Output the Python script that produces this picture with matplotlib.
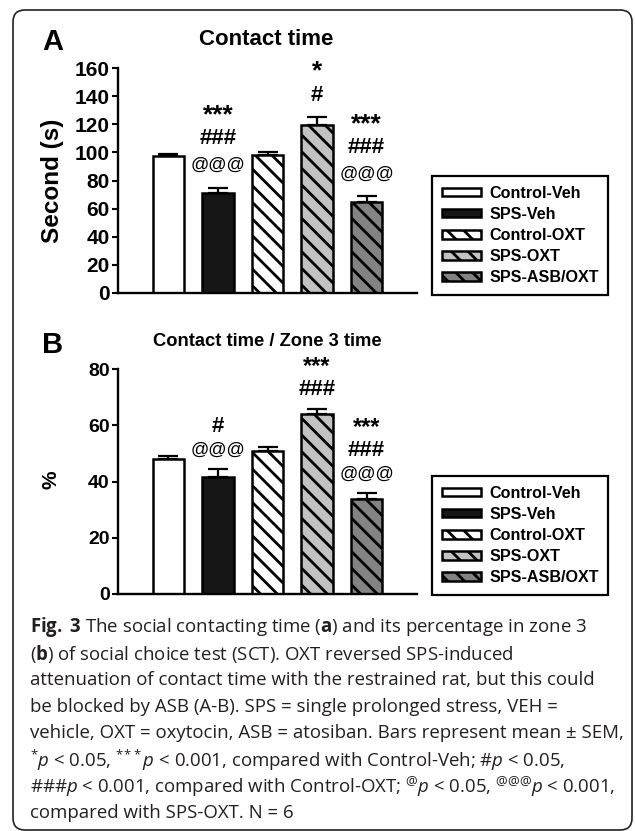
import numpy as np
import matplotlib
matplotlib.use("Agg")
import matplotlib.pyplot as plt
from matplotlib.patches import FancyBboxPatch
from matplotlib.transforms import Affine2D

# data
groups = ["Control-Veh", "SPS-Veh", "Control-OXT", "SPS-OXT", "SPS-ASB/OXT"]
contact_mean = [97.2, 71.2, 97.8, 119.5, 64.5]
contact_sem = [1.4, 3.6, 2.6, 5.6, 4.2]
pct_mean = [47.9, 41.5, 51.0, 64.0, 33.7]
pct_sem = [1.3, 2.9, 1.2, 1.8, 2.1]
# significance marks per bar, from the bar upwards
marks_a = [[], ["@@@", "###", "***"], [], ["#", "*"], ["@@@", "###", "***"]]
marks_b = [[], ["@@@", "#"], [], ["###", "***"], ["@@@", "###", "***"]]

caption = [
    r"$\mathbf{Fig.}$ $\mathbf{3}$ The social contacting time ($\mathbf{a}$) and its percentage in zone 3",
    r"($\mathbf{b}$) of social choice test (SCT). OXT reversed SPS-induced",
    "attenuation of contact time with the restrained rat, but this could",
    "be blocked by ASB (A-B). SPS = single prolonged stress, VEH =",
    "vehicle, OXT = oxytocin, ASB = atosiban. Bars represent mean \u00b1 SEM,",
    r"${}^{*}\mathit{p}$ < 0.05, ${}^{*\!*\!*}\mathit{p}$ < 0.001, compared with Control-Veh; #$\mathit{p}$ < 0.05,",
    r"###$\mathit{p}$ < 0.001, compared with Control-OXT; ${}^{@}\mathit{p}$ < 0.05, ${}^{@@@}\mathit{p}$ < 0.001,",
    "compared with SPS-OXT. N = 6",
]

# styles
fills = ["white", "#161616", "white", "#c2c2c2", "#838383"]
hatches = [None, None, "\\\\", "\\\\", "\\\\"]

plt.rcParams["font.family"] = ["Liberation Sans", "DejaVu Sans"]
plt.rcParams["hatch.linewidth"] = 2.0
plt.rcParams["mathtext.fontset"] = "custom"
plt.rcParams["mathtext.rm"] = "Open Sans"
plt.rcParams["mathtext.it"] = "Open Sans:italic"
plt.rcParams["mathtext.bf"] = "Open Sans:bold"

W, H = 635, 831
fig = plt.figure(figsize=(W / 100, H / 100), dpi=100)
# pixel coordinates, origin at top left
px = Affine2D().scale(0.01, -0.01).translate(0, H / 100) + fig.dpi_scale_trans
renderer = fig.canvas.get_renderer()

fig.patches.append(FancyBboxPatch((13, 10), 619, 820, boxstyle="round,pad=0,rounding_size=12",
                                  transform=px, fill=False, edgecolor="#222222", linewidth=1.2))


def panel(rect, means, sems, marks, ymax, first, step, tick_size, star_size):
    ax = fig.add_axes(rect)
    x = np.arange(len(groups))
    bars = ax.bar(x, means, width=0.63, color=fills, edgecolor="black", linewidth=1.8,
                  label=groups, zorder=2)
    for b, h in zip(bars, hatches):
        if h:
            b.set_hatch(h)
    ax.errorbar(x, means, yerr=[np.zeros(len(x)), sems], fmt="none", ecolor="black",
                elinewidth=1.6, capsize=7, capthick=1.6, zorder=1)
    ax.set_xlim(-1.02, 5.02)
    ax.set_ylim(0, ymax)
    ax.set_yticks(np.arange(0, ymax + 1, 20))
    ax.set_xticks([])
    for s in ["top", "right"]:
        ax.spines[s].set_visible(False)
    for s in ["left", "bottom"]:
        ax.spines[s].set_linewidth(1.7)
    ax.tick_params(axis="y", direction="out", length=4, width=1.5, pad=2, labelsize=tick_size)
    for t in ax.get_yticklabels():
        t.set_fontweight("bold")
    ax.set_facecolor("none")

    fonts = {"*": (star_size, "bold"), "#": (16, "bold"), "@": (13, "normal")}
    for i, rows in enumerate(marks):
        prev_top = None
        for j, s in enumerate(rows):
            size, weight = fonts[s[0]]
            dy = -0.2 * size * 100 / 72 if s[0] == "*" else 0
            t = ax.annotate(s, xy=(i, means[i] + sems[i]), xytext=(0, first + step * j + dy),
                            textcoords="offset pixels", ha="center", va="center",
                            fontsize=size, fontweight=weight, annotation_clip=False)
            bb = t.get_window_extent(renderer)
            # keep the stacked marks from running into each other
            if prev_top is not None and bb.y0 < prev_top + 1:
                t.xyann = (0, t.xyann[1] + prev_top + 1 - bb.y0)
                bb = t.get_window_extent(renderer)
            prev_top = bb.y1
    return ax, bars


axA, barsA = panel([118 / W, (H - 293) / H, 299 / W, 225 / H], contact_mean, contact_sem,
                   marks_a, 160, 22, 27, 15, 19)
axB, barsB = panel([118 / W, (H - 594) / H, 299 / W, 225 / H], pct_mean, pct_sem,
                   marks_b, 80, 19, 24, 14, 17)

for ax, bars, bottom in [(axA, barsA, 295), (axB, barsB, 595)]:
    leg = ax.legend(bars, groups, loc="lower left", bbox_to_anchor=(432, bottom),
                    bbox_transform=px, borderaxespad=0, fancybox=False, frameon=True,
                    handlelength=2.45, handleheight=0.42, handletextpad=0.5,
                    labelspacing=0.38, borderpad=0.6,
                    prop=dict(family="Liberation Sans", weight="bold", size=11.6))
    leg.get_frame().set_edgecolor("black")
    leg.get_frame().set_linewidth(1.6)
    leg.get_frame().set_alpha(1)

fig.text(42, 50, "A", transform=px, fontsize=21, fontweight="bold", va="baseline")
fig.text(42, 353, "B", transform=px, fontsize=21, fontweight="bold", va="baseline")
fig.text(266, 45, "Contact time", transform=px, fontsize=16, fontweight="bold",
         ha="center", va="baseline")
fig.text(267, 346, "Contact time / Zone 3 time", transform=px, fontsize=13.2,
         fontweight="bold", ha="center", va="baseline")
fig.text(52, 181, "Second (s)", transform=px, fontsize=17.5, fontweight="bold",
         rotation=90, ha="center", va="center")
fig.text(51, 480, "%", transform=px, fontsize=15, fontweight="bold",
         rotation=90, ha="center", va="center")

for i, line in enumerate(caption):
    fig.text(30, 627 + 26.6 * i, line, transform=px, fontsize=13.4, family="Open Sans",
             color="#231f20", ha="left", va="center")

fig.savefig("out.png", dpi=100)
